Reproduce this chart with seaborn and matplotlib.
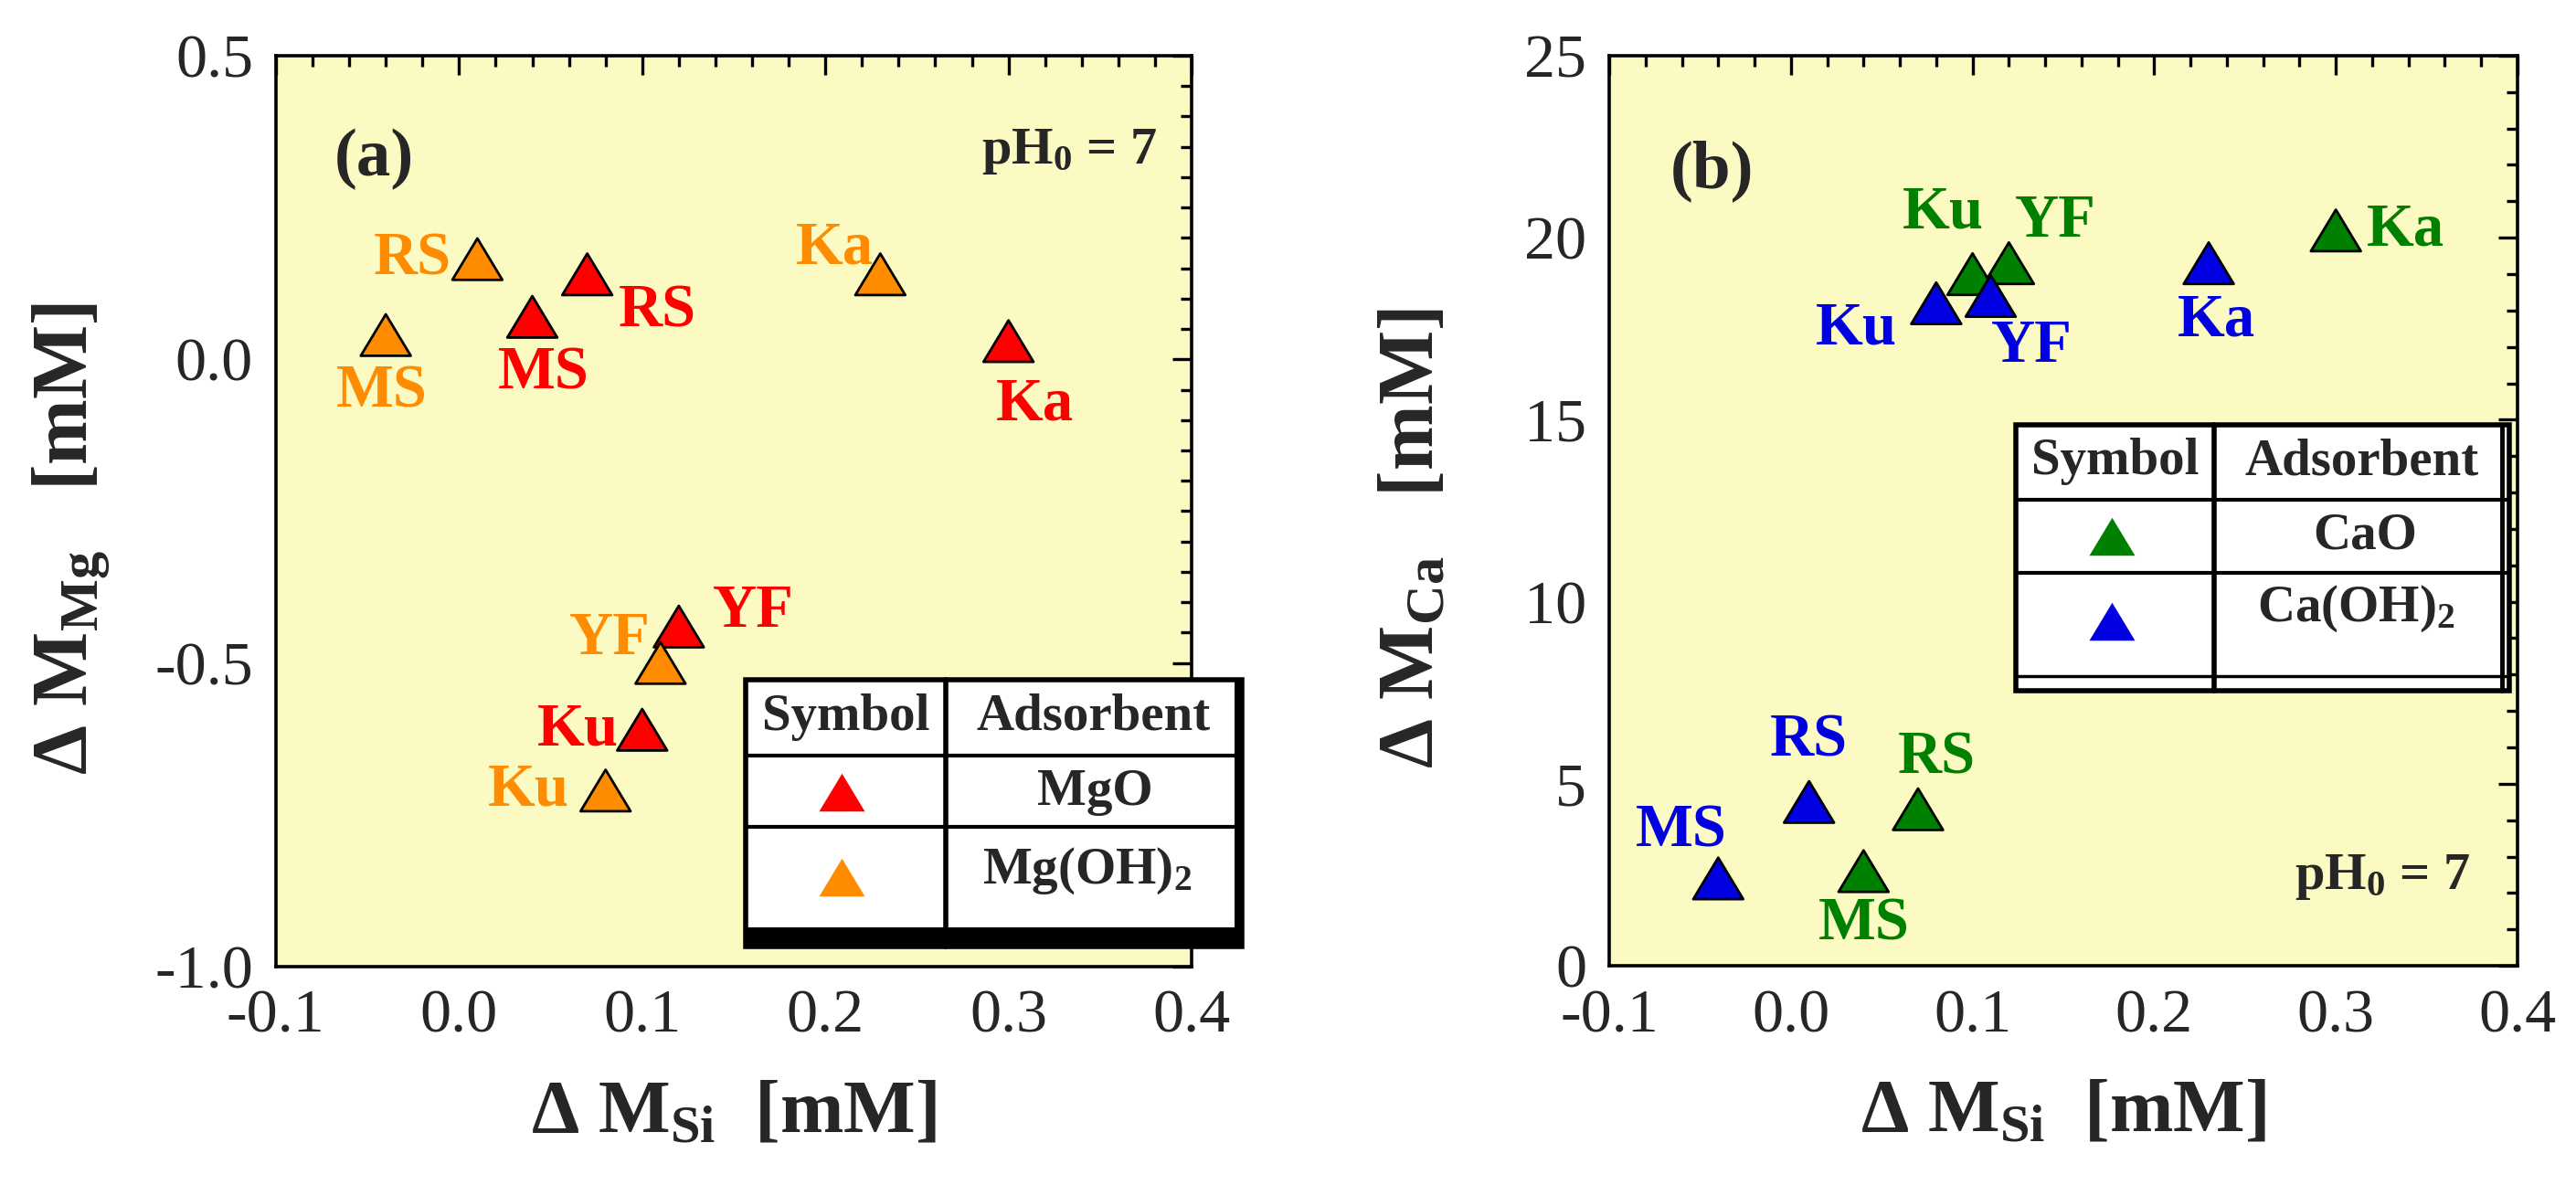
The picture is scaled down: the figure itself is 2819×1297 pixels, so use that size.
import numpy as np
import pandas as pd
import matplotlib
matplotlib.use('Agg')
import matplotlib.pyplot as plt
import seaborn as sns
from matplotlib.path import Path
from matplotlib.markers import MarkerStyle
from matplotlib.patches import Rectangle
from matplotlib.lines import Line2D
from matplotlib.ticker import MultipleLocator, FormatStrFormatter

# data
samples = ['RS', 'MS', 'Ka', 'YF', 'Ku']

mgo_si = [0.07, 0.04, 0.30, 0.12, 0.10]
mgo_mg = [0.14, 0.07, 0.03, -0.44, -0.61]
mgoh_si = [0.01, -0.04, 0.23, 0.11, 0.08]
mgoh_mg = [0.165, 0.04, 0.14, -0.50, -0.71]

cao_si = [0.07, 0.04, 0.30, 0.12, 0.10]
cao_ca = [4.3, 2.6, 20.2, 19.3, 19.0]
caoh_si = [0.01, -0.04, 0.23, 0.11, 0.08]
caoh_ca = [4.5, 2.4, 19.3, 18.4, 18.2]

ads_a = ['MgO', 'Mg(OH)2']
ads_b = ['CaO', 'Ca(OH)2']
colors_a = ['#ff0000', '#ff8c00']
colors_b = ['#008000', '#0000e0']

# label offsets (points) for each sample label, in plotting order
offsets_a = [(55, -29), (9, -45), (21, -50), (59, 12), (-51, 0),
             (-51, 0), (-3, -45), (-36, 20), (-40, 19), (-61, 0)]
offsets_b = [(15, 40), (0, -42), (55, 0), (37, 33), (-23, 48),
             (0, 48), (-29, 37), (6, -45), (32, -40), (-63, -20)]

sns.set_style('white')
plt.rcParams['font.family'] = ['Liberation Serif', 'DejaVu Serif']
plt.rcParams['mathtext.fontset'] = 'custom'
plt.rcParams['mathtext.rm'] = 'Liberation Serif'
plt.rcParams['mathtext.bf'] = 'Liberation Serif:bold'
plt.rcParams['mathtext.it'] = 'Liberation Serif:italic'
plt.rcParams['axes.unicode_minus'] = False

tri = MarkerStyle(Path([(0, 0.83), (-1, -0.83), (1, -0.83), (0, 0.83)],
                       [Path.MOVETO, Path.LINETO, Path.LINETO, Path.CLOSEPOLY]))

df_a = pd.DataFrame({'si': mgo_si + mgoh_si, 'm': mgo_mg + mgoh_mg,
                     'ads': [ads_a[0]] * 5 + [ads_a[1]] * 5, 'sample': samples * 2})
df_b = pd.DataFrame({'si': cao_si + caoh_si, 'm': cao_ca + caoh_ca,
                     'ads': [ads_b[0]] * 5 + [ads_b[1]] * 5, 'sample': samples * 2})

fig = plt.figure(figsize=(28.19, 12.97), dpi=100)
ax1 = fig.add_axes([0.1071, 0.1843, 0.3555, 0.7687])
ax2 = fig.add_axes([0.6247, 0.185, 0.3526, 0.768])


def style_axes(ax, ymajor, yminor, yfmt):
    ax.set_facecolor('#fafac2')
    for sp in ax.spines.values():
        sp.set_linewidth(2.6)
        sp.set_color('black')
    ax.xaxis.set_major_locator(MultipleLocator(0.1))
    ax.xaxis.set_minor_locator(MultipleLocator(0.02))
    ax.xaxis.set_major_formatter(FormatStrFormatter('%.1f'))
    ax.yaxis.set_major_locator(MultipleLocator(ymajor))
    ax.yaxis.set_minor_locator(MultipleLocator(yminor))
    ax.yaxis.set_major_formatter(FormatStrFormatter(yfmt))
    ax.tick_params(which='both', direction='in', top=True, right=True,
                   width=2.4, color='black', labelsize=49, pad=18)
    ax.tick_params(which='major', length=15)
    ax.tick_params(which='minor', length=8.6)


def scatter_panel(ax, df, ads, colors, offsets):
    pal = dict(zip(ads, colors))
    sns.scatterplot(data=df, x='si', y='m', hue='ads', palette=pal, marker=tri,
                    s=1550, edgecolor='black', linewidth=2, legend=False,
                    ax=ax, zorder=3)
    for i, row in df.iterrows():
        ax.annotate(row['sample'], (row['si'], row['m']), xytext=offsets[i],
                    textcoords='offset points', ha='center', va='center',
                    fontsize=48, fontweight='bold', color=pal[row['ads']], zorder=4)


def draw_table(ax, box, col, rows, head_y, mark_y, text_xy, labels, colors, double=False):
    x0, x1, y0, y1 = box
    tr = ax.transAxes
    kw = dict(transform=tr, clip_on=False, zorder=6)
    ax.add_patch(Rectangle((x0, y0), x1 - x0, y1 - y0, facecolor='white',
                           edgecolor='black', lw=4, transform=tr, clip_on=False, zorder=5))
    if double:
        ax.add_line(Line2D([x0, x1], [y0 + 0.016, y0 + 0.016], color='black', lw=2.5, **kw))
        ax.add_line(Line2D([x1 - 0.008, x1 - 0.008], [y0, y1], color='black', lw=3.5, **kw))
    else:
        ax.add_patch(Rectangle((x0, y0), x1 - x0, 0.021, facecolor='black', lw=0, **kw))
        ax.add_patch(Rectangle((x1 - 0.008, y0), 0.008, y1 - y0, facecolor='black', lw=0, **kw))
    ax.add_line(Line2D([col, col], [y0, y1], color='black', lw=4, **kw))
    for r in rows:
        ax.add_line(Line2D([x0, x1], [r, r], color='black', lw=3, **kw))
    sx = (x0 + col) / 2
    ax.text(sx, head_y, 'Symbol', ha='center', va='center', fontsize=41,
            fontweight='bold', **kw)
    ax.text((col + x1) / 2, head_y, 'Adsorbent', ha='center', va='center', fontsize=41,
            fontweight='bold', **kw)
    for my, (tx, ty), lab, c in zip(mark_y, text_xy, labels, colors):
        ax.add_line(Line2D([sx - 0.004], [my], marker=tri, markersize=36, color=c,
                           markeredgewidth=0, linestyle='none', **kw))
        ax.text(tx, ty, lab, ha='center', va='center', fontsize=41,
                fontweight='bold', **kw)


# panel (a)
style_axes(ax1, 0.5, 0.05, '%.1f')
scatter_panel(ax1, df_a, ads_a, colors_a, offsets_a)
ax1.set_xlim(-0.1, 0.4)
ax1.set_ylim(-1.0, 0.5)
ax1.set_xlabel('Δ M$_{\\mathbf{Si}}$  [mM]', fontsize=60, fontweight='bold')
ax1.set_ylabel('Δ M$_{\\mathbf{Mg}}$   [mM]', fontsize=62, fontweight='bold')
ax1.xaxis.set_label_coords(0.5, -0.125)
ax1.yaxis.set_label_coords(-0.18, 0.47)
ax1.text(0.107, 0.886, '(a)', transform=ax1.transAxes, ha='center', va='center',
         fontsize=54, fontweight='bold')
ax1.text(0.962, 0.895, 'pH$_{\\mathbf{0}}$ = 7', transform=ax1.transAxes, ha='right',
         va='center', fontsize=42, fontweight='bold')
draw_table(ax1, (0.513, 1.055, 0.022, 0.315), 0.7315, [0.2317, 0.1535], 0.274,
           [0.192, 0.098], [(0.894, 0.192), (0.886, 0.105)],
           ['MgO', 'Mg(OH)$_{\\mathbf{2}}$'], colors_a)

# panel (b)
style_axes(ax2, 5, 1, '%d')
scatter_panel(ax2, df_b, ads_b, colors_b, offsets_b)
ax2.set_xlim(-0.1, 0.4)
ax2.set_ylim(0, 25)
ax2.set_xlabel('Δ M$_{\\mathbf{Si}}$  [mM]', fontsize=60, fontweight='bold')
ax2.set_ylabel('Δ M$_{\\mathbf{Ca}}$   [mM]', fontsize=62, fontweight='bold')
ax2.xaxis.set_label_coords(0.5, -0.125)
ax2.yaxis.set_label_coords(-0.175, 0.47)
ax2.text(0.113, 0.873, '(b)', transform=ax2.transAxes, ha='center', va='center',
         fontsize=54, fontweight='bold')
ax2.text(0.948, 0.097, 'pH$_{\\mathbf{0}}$ = 7', transform=ax2.transAxes, ha='right',
         va='center', fontsize=42, fontweight='bold')
draw_table(ax2, (0.448, 0.991, 0.302, 0.594), 0.666, [0.512, 0.432], 0.554,
           [0.472, 0.379], [(0.832, 0.472), (0.822, 0.392)],
           ['CaO', 'Ca(OH)$_{\\mathbf{2}}$'], colors_b, double=True)

fig.savefig('out.png', dpi=100)
